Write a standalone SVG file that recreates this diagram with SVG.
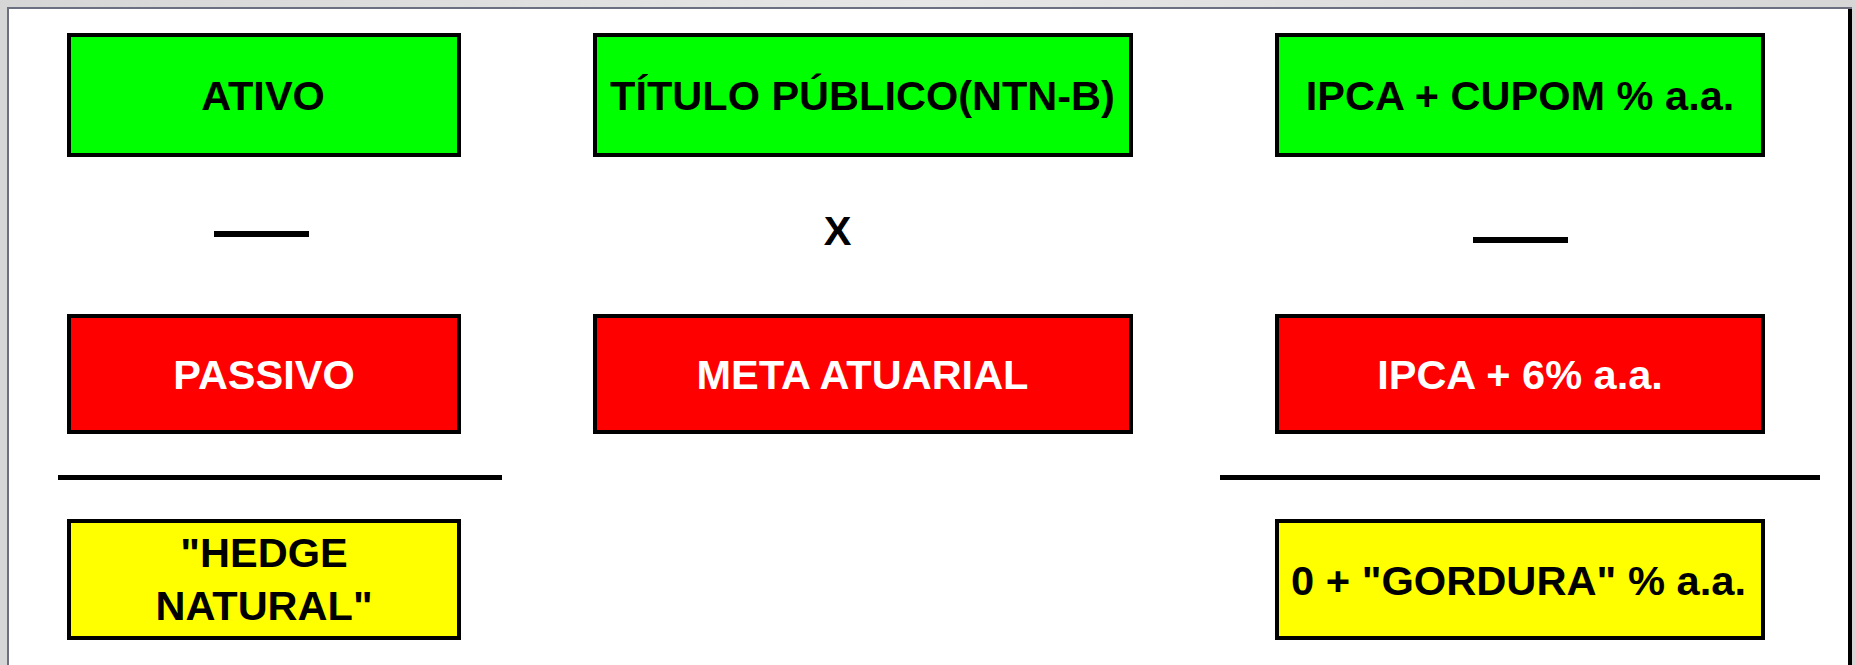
<svg xmlns="http://www.w3.org/2000/svg" width="1856" height="665" viewBox="0 0 1856 665">
<style>
.box{stroke:#000;stroke-width:4}
.g{fill:#00ff00}
.r{fill:#ff0000}
.y{fill:#ffff00}
.t{font-family:"Liberation Sans",Arial,sans-serif;font-weight:bold;font-size:41.5px;text-anchor:middle;fill:#000}
.w{fill:#fff}
</style>
<defs>
<linearGradient id="topband" x1="0" y1="0" x2="1" y2="0">
<stop offset="0" stop-color="#d6d6d6"/>
<stop offset="0.5" stop-color="#e6e6e6"/>
<stop offset="1" stop-color="#d6d6d6"/>
</linearGradient>
</defs>
<g id="frame">
<rect x="0" y="0" width="1856" height="665" fill="#d6d6d6"/>
<rect x="0" y="0" width="1856" height="7" fill="url(#topband)"/>
<rect x="7" y="7" width="1845" height="658" fill="#6b6f80"/>
<rect x="9" y="9" width="1839" height="656" fill="#fff"/>
<rect x="1848" y="9" width="4" height="656" fill="#000"/>
</g>
<g id="ativo"><rect class="box g" x="69" y="35" width="390" height="120"/><text class="t" x="263" y="110">ATIVO</text></g>
<g id="titulo"><rect class="box g" x="595" y="35" width="536" height="120"/><text class="t" x="862.5" y="110">TÍTULO PÚBLICO(NTN-B)</text></g>
<g id="ipca-cupom"><rect class="box g" x="1277" y="35" width="486" height="120"/><text class="t" x="1520" y="110">IPCA + CUPOM % a.a.</text></g>
<g id="minus-left"><rect x="214" y="231" width="95" height="6" fill="#000"/></g>
<g id="times"><text class="t" x="837.5" y="245">X</text></g>
<g id="minus-right"><rect x="1473" y="237" width="95" height="6" fill="#000"/></g>
<g id="passivo"><rect class="box r" x="69" y="316" width="390" height="116"/><text class="t w" x="264" y="389">PASSIVO</text></g>
<g id="meta"><rect class="box r" x="595" y="316" width="536" height="116"/><text class="t w" x="862.5" y="389">META ATUARIAL</text></g>
<g id="ipca-6"><rect class="box r" x="1277" y="316" width="486" height="116"/><text class="t w" x="1520" y="389">IPCA + 6% a.a.</text></g>
<g id="rules">
<rect x="58" y="475" width="444" height="5" fill="#000"/>
<rect x="1220" y="475" width="600" height="5" fill="#000"/>
</g>
<g id="hedge"><rect class="box y" x="69" y="521" width="390" height="117"/><text class="t" x="264" y="567">"HEDGE</text><text class="t" x="264" y="620">NATURAL"</text></g>
<g id="gordura"><rect class="box y" x="1277" y="521" width="486" height="117"/><text class="t" x="1518.5" y="594.5" textLength="455" lengthAdjust="spacingAndGlyphs">0 + "GORDURA" % a.a.</text></g>
<g id="connectors"></g>
</svg>
